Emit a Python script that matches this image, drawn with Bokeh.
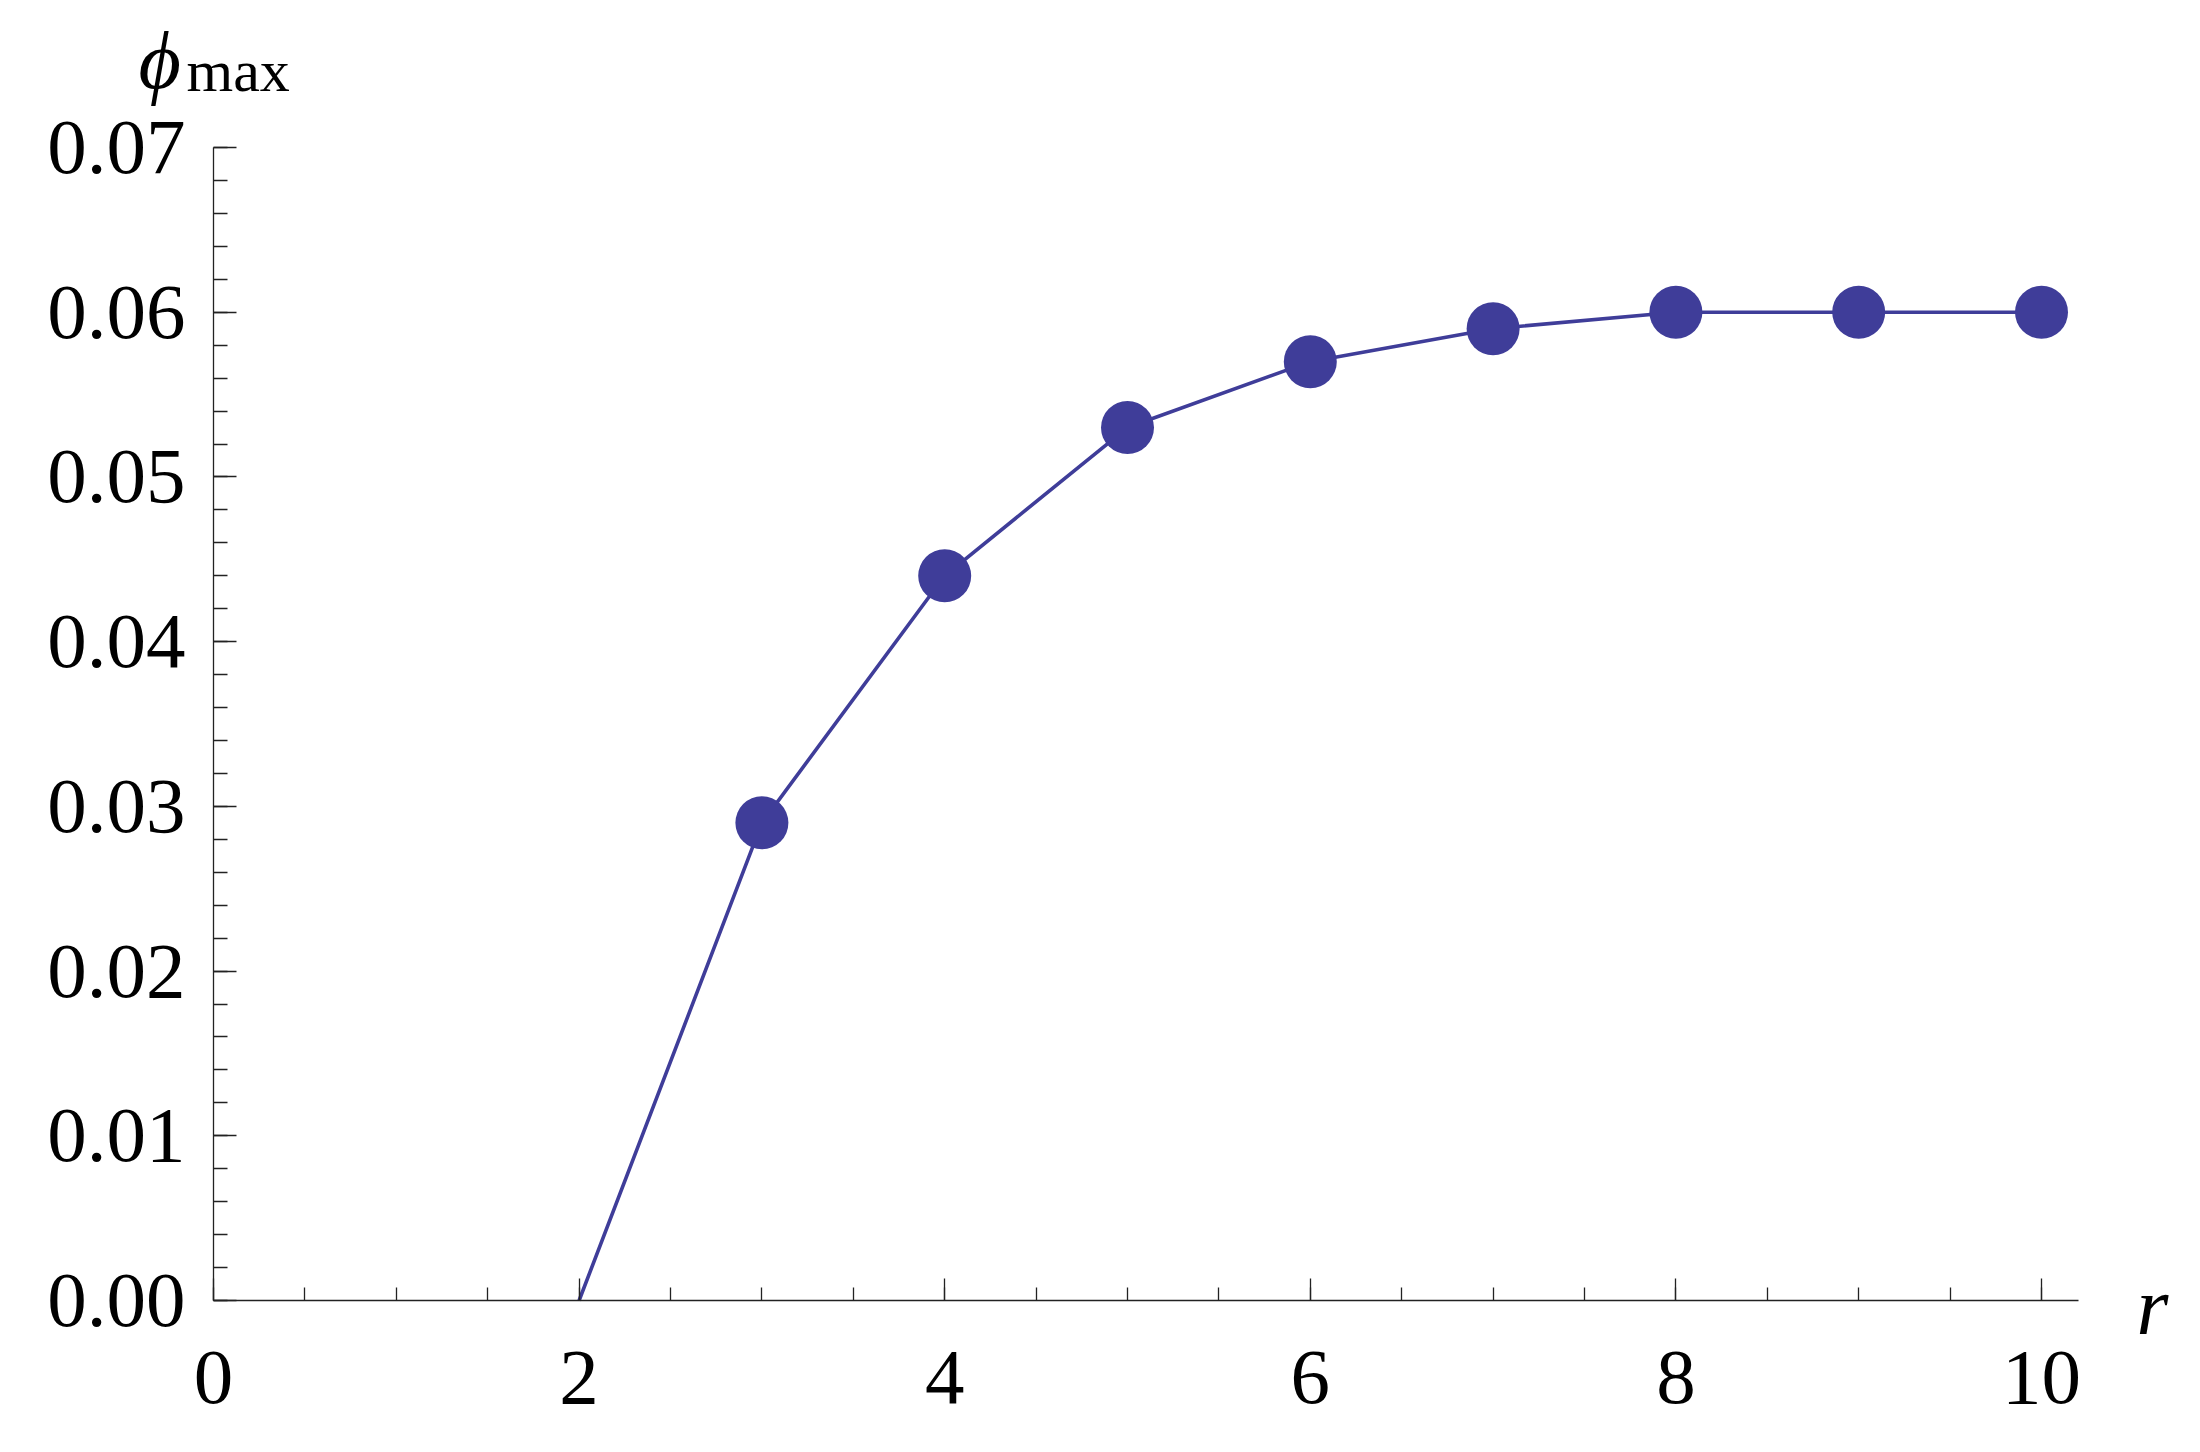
from bokeh.plotting import figure
from bokeh.models import Range1d, FixedTicker
from bokeh.core.properties import value
from bokeh.embed import file_html
from bokeh.resources import INLINE

# data
r_line = [2, 3, 4, 5, 6, 7, 8, 9, 10]
phi_line = [0.0, 0.029, 0.044, 0.053, 0.057, 0.059, 0.060, 0.060, 0.060]
r_pts = [3, 4, 5, 6, 7, 8, 9, 10]
phi_pts = [0.029, 0.044, 0.053, 0.057, 0.059, 0.060, 0.060, 0.060]
x_ticks = [0, 2, 4, 6, 8, 10]
y_ticks = [0.00, 0.01, 0.02, 0.03, 0.04, 0.05, 0.06, 0.07]
y_tick_labels = ["0.00", "0.01", "0.02", "0.03", "0.04", "0.05", "0.06", "0.07"]
x_label = "r"
y_label_main = "ϕ"
y_label_sub = "max"

COLOR = "#3F3D99"
FONT = "Liberation Serif"

W, H = 2184, 1436
# pixel anchors of the axes inside the canvas
X0_PX, X_PER_UNIT = 213.0, 182.8
Y0_PX, Y_PER_UNIT = 1300.0, 16471.0
X_MAX, Y_MAX = 10.2, 0.07

x_range = Range1d(-X0_PX / X_PER_UNIT, (W - X0_PX) / X_PER_UNIT)
y_range = Range1d(-(H - Y0_PX) / Y_PER_UNIT, Y0_PX / Y_PER_UNIT)

p = figure(width=W, height=H, min_border=0,
           x_range=x_range, y_range=y_range,
           output_backend="svg", toolbar_location=None)
p.outline_line_color = None
p.xgrid.visible = False
p.ygrid.visible = False
p.background_fill_color = "white"
p.border_fill_color = "white"

p.line(r_line, phi_line, line_color=COLOR, line_width=3.6)
p.scatter(r_pts, phi_pts, size=53, fill_color=COLOR, line_color=None)

for ax in (p.xaxis[0], p.yaxis[0]):
    ax.fixed_location = 0
    ax.axis_line_color = "#222222"
    ax.axis_line_width = 1.3
    ax.major_tick_line_color = "#222222"
    ax.minor_tick_line_color = "#222222"
    ax.major_tick_line_width = 1.3
    ax.minor_tick_line_width = 1.3
    ax.major_tick_out = 0
    ax.minor_tick_out = 0
    ax.major_label_text_font = FONT
    ax.major_label_text_font_size = "79px"
    ax.major_label_text_color = "black"

p.xaxis[0].bounds = (0, X_MAX)
p.xaxis[0].ticker = FixedTicker(ticks=x_ticks,
                                minor_ticks=[i * 0.5 for i in range(21)])
p.xaxis[0].major_label_overrides = {t: str(t) for t in x_ticks}
p.xaxis[0].major_tick_in = 22
p.xaxis[0].minor_tick_in = 13
p.xaxis[0].major_label_standoff = 51

p.yaxis[0].bounds = (0, Y_MAX)
p.yaxis[0].ticker = FixedTicker(ticks=y_ticks,
                                minor_ticks=[i * 0.002 for i in range(36)])
p.yaxis[0].major_label_overrides = {t: s for t, s in zip(y_ticks, y_tick_labels)}
p.yaxis[0].major_tick_in = 23
p.yaxis[0].minor_tick_in = 14
p.yaxis[0].major_label_standoff = 28

def px_to_data(cx, cy):
    return (cx - X0_PX) / X_PER_UNIT, (Y0_PX - cy) / Y_PER_UNIT

def add_text(cx, cy, text, size, italic):
    x, y = px_to_data(cx, cy)
    p.text(x=[x], y=[y], text=[text], text_font=value(FONT),
           text_font_style="italic" if italic else "normal",
           text_font_size=size, text_baseline="alphabetic",
           text_align="left", text_color="black")

add_text(138, 60, y_label_main, "82px", True)
add_text(186, 70, y_label_sub, "60px", False)
add_text(2136, 1306, x_label, "82px", True)

open("out.html", "w").write(file_html(p, INLINE))
